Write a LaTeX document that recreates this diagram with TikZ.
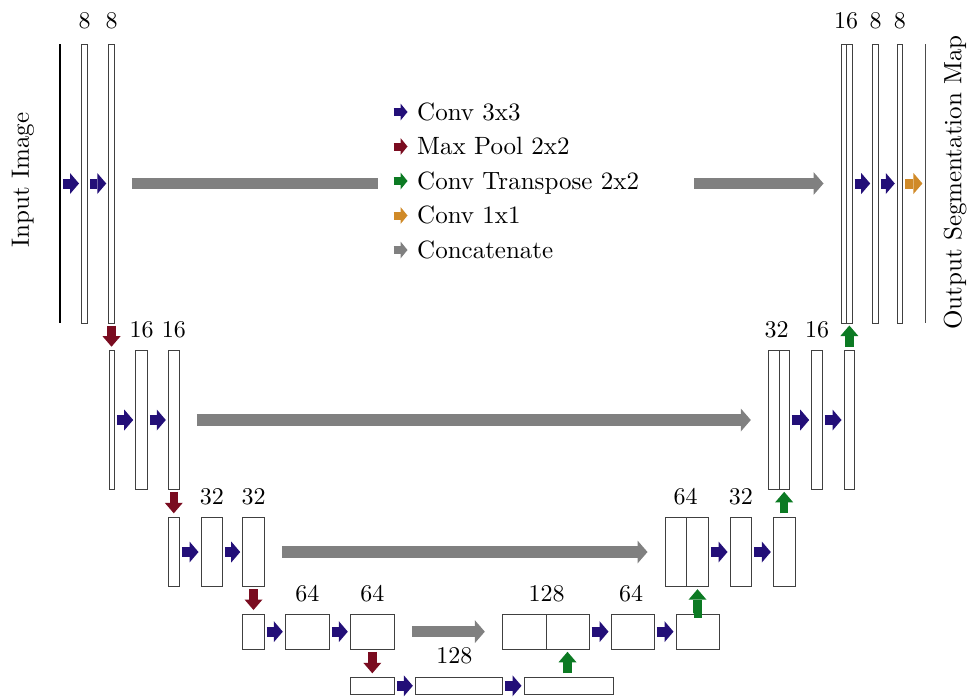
\documentclass[tikz,border=0pt]{standalone}
\usetikzlibrary{arrows.meta,calc}
\definecolor{convblue}{RGB}{35,15,120}
\definecolor{poolred}{RGB}{122,12,32}
\definecolor{upgreen}{RGB}{12,122,35}
\definecolor{oneorange}{RGB}{208,138,40}
\definecolor{catgray}{RGB}{128,128,128}
\newcommand\lab[1]{\scalebox{2.4}{#1}}
\newcommand\bigtxt[1]{\scalebox{2.5}{#1}}
\begin{document}
\begin{tikzpicture}[x=1pt,y=-1pt,
  blk/.style={draw=black!75, line width=1pt, fill=white, inner sep=0pt},
  lbl/.style={anchor=base, inner sep=0pt, font=\fontsize{10}{12}\selectfont},
  hconv/.style={draw=#1, line width=10pt, -{Triangle[width=21pt,length=9pt,line width=0pt]}, shorten <=2pt, shorten >=2pt},
  vconv/.style={draw=#1, line width=8.5pt, -{Triangle[width=18pt,length=10.5pt,line width=0pt]}, shorten <=2pt, shorten >=3.5pt},
  concat/.style={draw=catgray, line width=11.5pt, -{Triangle[width=23pt,length=10pt,line width=0pt]}, shorten <=17pt, shorten >=17pt},
  legarr/.style={draw=#1, line width=8pt, -{Triangle[width=17pt,length=7pt,line width=0pt]}},
  legtext/.style={anchor=base west, inner sep=0pt, font=\fontsize{10}{12}\selectfont},
  sidetext/.style={rotate=90, inner sep=0pt, font=\fontsize{10}{12}\selectfont}
]
\useasboundingbox (0,0) rectangle (971,697);

% ---------- level 1 ----------
\node[fill=black, inner sep=0pt, minimum width=1.5pt, minimum height=279pt] (in) at (60,183.5) {};
\node[blk, minimum width=6pt, minimum height=279pt] (b11) at (84.5,183.5) {};
\node[blk, minimum width=5.5pt, minimum height=279pt] (b12) at (111.5,183.5) {};
\node[blk, minimum width=5.7pt, minimum height=279pt] (c1a) at (843.85,183.5) {};
\node[blk, minimum width=5.3pt, minimum height=279pt] (c1b) at (849.35,183.5) {};
\node[blk, minimum width=5.6pt, minimum height=279pt] (r12) at (875.5,183.5) {};
\node[blk, minimum width=5pt, minimum height=279pt] (r13) at (899.8,183.5) {};
\node[fill=black!70, inner sep=0pt, minimum width=1.4pt, minimum height=279pt] (out) at (925.3,183.5) {};

% ---------- level 2 ----------
\node[blk, minimum width=5.3pt, minimum height=138.6pt] (b21) at (111.65,420) {};
\node[blk, minimum width=11.6pt, minimum height=138.6pt] (b22) at (141.5,420) {};
\node[blk, minimum width=11pt, minimum height=138.6pt] (b23) at (173.8,420) {};
\node[blk, minimum width=10.7pt, minimum height=138.6pt] (c2a) at (773.65,420) {};
\node[blk, minimum width=10.3pt, minimum height=138.6pt] (c2b) at (784.15,420) {};
\node[blk, minimum width=10.6pt, minimum height=138.6pt] (r22) at (817,420) {};
\node[blk, minimum width=10.7pt, minimum height=138.6pt] (r23) at (849.35,420) {};

% ---------- level 3 ----------
\node[blk, minimum width=11pt, minimum height=69.4pt] (b31) at (173.8,552) {};
\node[blk, minimum width=21.7pt, minimum height=69.4pt] (b32) at (211.85,552) {};
\node[blk, minimum width=21.6pt, minimum height=69.4pt] (b33) at (253.5,552) {};
\node[blk, minimum width=21.7pt, minimum height=69.4pt] (c3a) at (675.85,552) {};
\node[blk, minimum width=21.6pt, minimum height=69.4pt] (c3b) at (697.5,552) {};
\node[blk, minimum width=21.7pt, minimum height=69.4pt] (r32) at (740.85,552) {};
\node[blk, minimum width=21.7pt, minimum height=69.4pt] (r33) at (784.15,552) {};

% ---------- level 4 ----------
\node[blk, minimum width=22pt, minimum height=35.3pt] (b41) at (253.3,631.65) {};
\node[blk, minimum width=44pt, minimum height=35.3pt] (b42) at (307.3,631.65) {};
\node[blk, minimum width=44pt, minimum height=35.3pt] (b43) at (372.3,631.65) {};
\node[blk, minimum width=43.7pt, minimum height=35.3pt] (c4a) at (524.15,631.65) {};
\node[blk, minimum width=43pt, minimum height=35.3pt] (c4b) at (567.5,631.65) {};
\node[blk, minimum width=43.3pt, minimum height=35.3pt] (r42) at (632.65,631.65) {};
\node[blk, minimum width=43.3pt, minimum height=35.3pt] (r43) at (697.65,631.65) {};

% ---------- level 5 ----------
\node[blk, minimum width=43.6pt, minimum height=17pt] (b51) at (372.5,685.8) {};
\node[blk, minimum width=87pt, minimum height=17pt] (b52) at (458.8,685.8) {};
\node[blk, minimum width=89.3pt, minimum height=17pt] (b53) at (568.65,685.8) {};

% ---------- labels ----------
\node[lbl] (t11) at ([yshift=14.7pt]b11.north) {\lab{8}};
\node[lbl] (t12) at ([yshift=14.7pt]b12.north) {\lab{8}};
\node[lbl] (t1c) at ([yshift=15.2pt,xshift=-1pt]c1a.north east) {\lab{16}};
\node[lbl] (t1r2) at ([yshift=15.2pt]r12.north) {\lab{8}};
\node[lbl] (t1r3) at ([yshift=15.2pt]r13.north) {\lab{8}};
\node[lbl] (t22) at ([yshift=12.5pt]b22.north) {\lab{16}};
\node[lbl] (t23) at ([yshift=12.5pt]b23.north) {\lab{16}};
\node[lbl] (t2c) at ([yshift=12.5pt,xshift=-3pt]c2a.north east) {\lab{32}};
\node[lbl] (t2r2) at ([yshift=12.5pt]r22.north) {\lab{16}};
\node[lbl] (t32) at ([yshift=12.8pt]b32.north) {\lab{32}};
\node[lbl] (t33) at ([yshift=12.8pt]b33.north) {\lab{32}};
\node[lbl] (t3c) at ([yshift=12.8pt,xshift=-1.5pt]c3a.north east) {\lab{64}};
\node[lbl] (t3r2) at ([yshift=12.8pt]r32.north) {\lab{32}};
\node[lbl] (t42) at ([yshift=12.5pt]b42.north) {\lab{64}};
\node[lbl] (t43) at ([yshift=12.5pt]b43.north) {\lab{64}};
\node[lbl] (t4c) at ([yshift=12.5pt]c4a.north east) {\lab{128}};
\node[lbl] (t4r2) at ([yshift=12.5pt,xshift=-1.5pt]r42.north) {\lab{64}};
\node[lbl] (t52) at ([yshift=13.3pt,xshift=-4.5pt]b52.north) {\lab{128}};

\node[sidetext] (intxt) at (23,180) {\bigtxt{Input Image}};
\node[sidetext] (outtxt) at (955,182.5) {\bigtxt{Output Segmentation Map}};

% ---------- skip connections ----------
\draw[concat] (b12.east) -- (c1a.west);
\draw[concat] (b23.east) -- (c2a.west);
\draw[concat] (b33.east) -- (c3a.west);
\draw[concat] (b43.east) -- (c4a.west);

% ---------- legend ----------
\node[fill=white, inner sep=0pt, minimum width=316pt, minimum height=40pt] (legend) at (536,183) {};
\foreach \i/\c/\t in {0/convblue/Conv 3x3, 1/poolred/Max Pool 2x2, 2/upgreen/Conv Transpose 2x2, 3/oneorange/Conv 1x1, 4/catgray/Concatenate}{
  \coordinate (la\i) at (393.5,{112+34.5*\i});
  \coordinate (lb\i) at (407.5,{112+34.5*\i});
  \draw[legarr=\c] (la\i) -- (lb\i);
  \node[legtext] (lt\i) at (417,{120+34.5*\i}) {\bigtxt{\t}};
}

% ---------- conv 3x3 ----------
\draw[hconv=convblue] (in.east) -- (b11.west);
\draw[hconv=convblue] (b11.east) -- (b12.west);
\draw[hconv=convblue] (c1b.east) -- (r12.west);
\draw[hconv=convblue] (r12.east) -- (r13.west);
\draw[hconv=oneorange] (r13.east) -- (out.west);
\draw[hconv=convblue] (b21.east) -- (b22.west);
\draw[hconv=convblue] (b22.east) -- (b23.west);
\draw[hconv=convblue] (c2b.east) -- (r22.west);
\draw[hconv=convblue] (r22.east) -- (r23.west);
\draw[hconv=convblue] (b31.east) -- (b32.west);
\draw[hconv=convblue] (b32.east) -- (b33.west);
\draw[hconv=convblue] (c3b.east) -- (r32.west);
\draw[hconv=convblue] (r32.east) -- (r33.west);
\draw[hconv=convblue] (b41.east) -- (b42.west);
\draw[hconv=convblue] (b42.east) -- (b43.west);
\draw[hconv=convblue] (c4b.east) -- (r42.west);
\draw[hconv=convblue] (r42.east) -- (r43.west);
\draw[hconv=convblue] (b51.east) -- (b52.west);
\draw[hconv=convblue] (b52.east) -- (b53.west);

% ---------- max pool ----------
\draw[vconv=poolred] (b12.south) -- (b12.south |- b21.north);
\draw[vconv=poolred] (b23.south) -- (b31.north);
\draw[vconv=poolred] (b33.south) -- (b33.south |- b41.north);
\draw[vconv=poolred] (b43.south) -- (b43.south |- b51.north);

% ---------- up-convolution ----------
\draw[vconv=upgreen, shorten <=3.5pt, shorten >=2pt] (c4b.south |- b53.north) -- (c4b.south);
\draw[vconv=upgreen, shorten <=3.5pt, shorten >=2pt] (r43.north) -- (r43.north -| c3b.south) -- (c3b.south);
\draw[vconv=upgreen, shorten <=3.5pt, shorten >=2pt] (r33.north) -- (c2b.south);
\draw[vconv=upgreen, shorten <=3.5pt, shorten >=2pt] (r23.north) -- (c1b.south);
\end{tikzpicture}
\end{document}
